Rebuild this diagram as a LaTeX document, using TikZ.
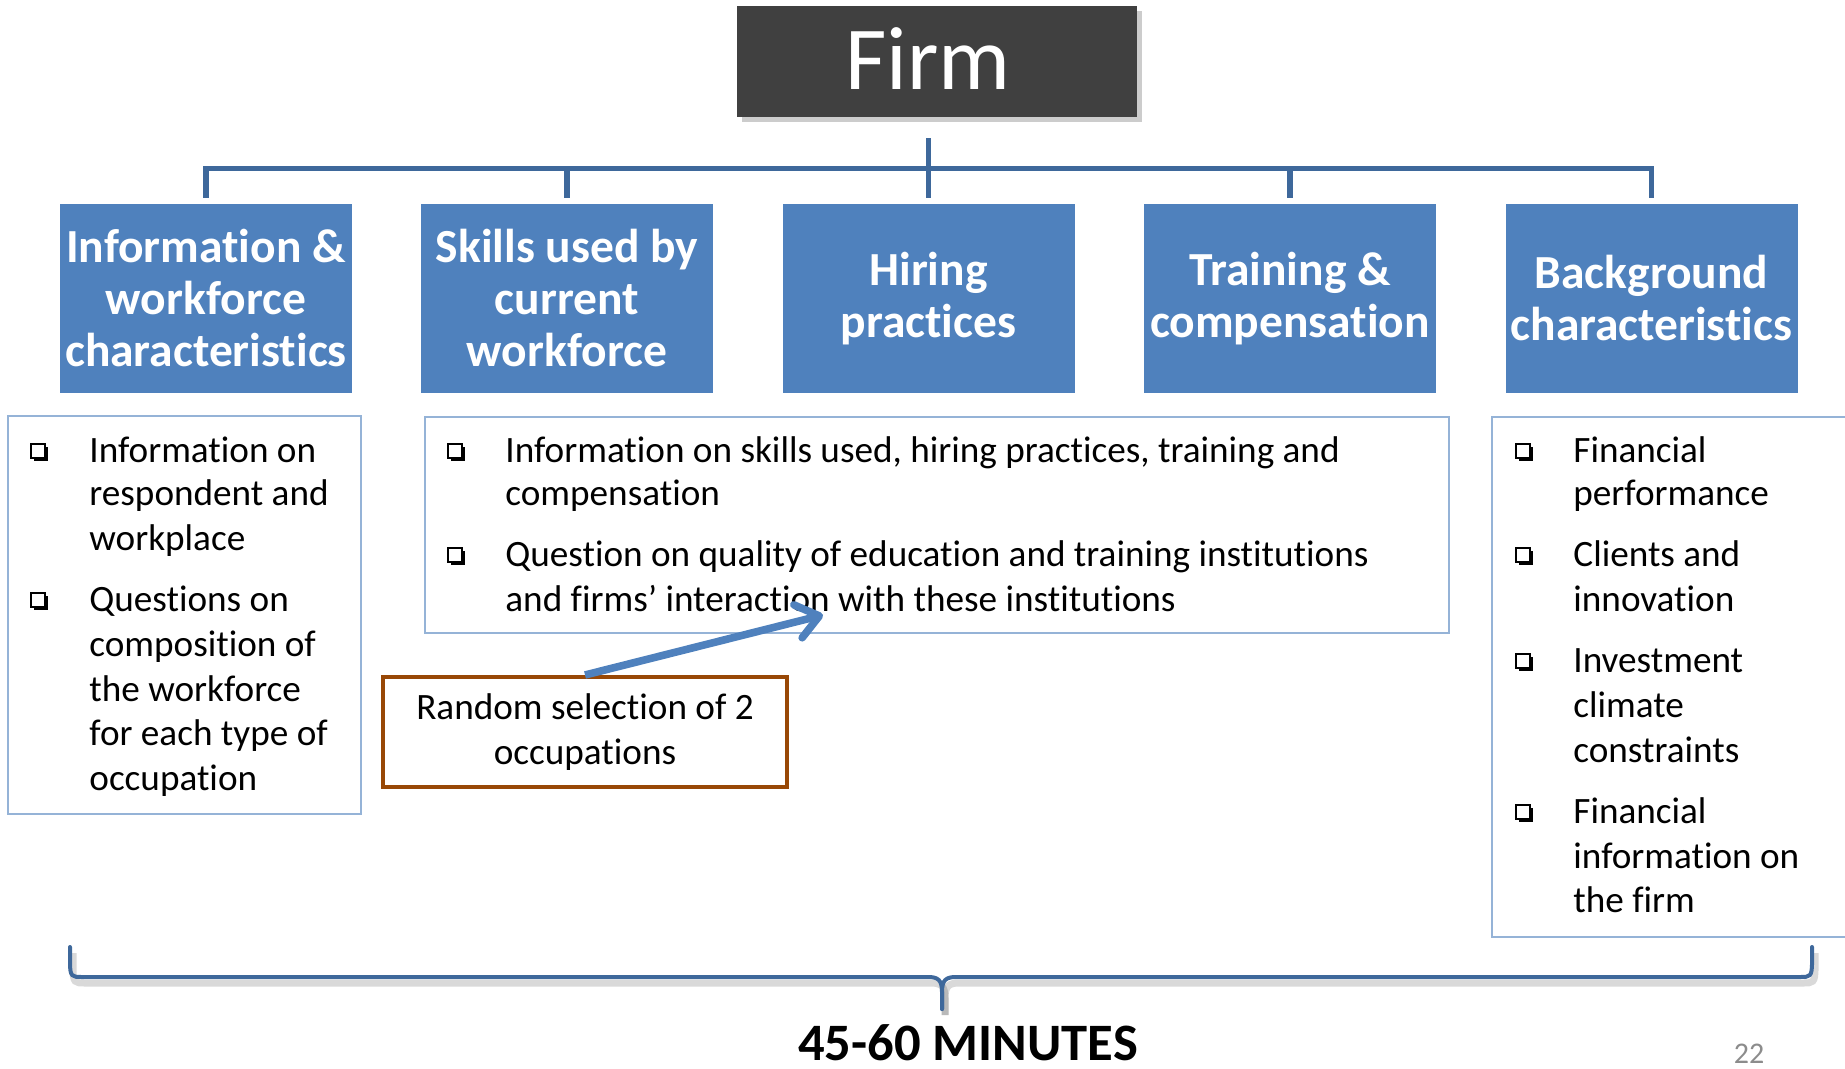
\documentclass[tikz,border=0pt]{standalone}
\usepackage{fontspec}
\setmainfont[RawFeature={-liga;-clig;-dlig}]{Carlito}
\usetikzlibrary{arrows.meta,shadows}
\definecolor{boxblue}{RGB}{79,129,189}
\definecolor{connblue}{RGB}{62,104,155}
\definecolor{outblue}{RGB}{149,179,215}
\definecolor{firmgray}{RGB}{64,64,64}
\definecolor{rsbrown}{RGB}{152,72,6}
\definecolor{pggray}{RGB}{140,140,140}
\newcommand\qbul[2]{%
  \fill[black] (#1+3,#2-15) rectangle (#1+17,#2-1);
  \filldraw[fill=white,draw=black,line width=0.6pt] (#1,#2-18) rectangle (#1+14,#2-4);
}
\begin{document}
\begin{tikzpicture}[x=0.5pt,y=-0.5pt,
  topic/.style={fill=boxblue, text=white, minimum width=146pt, minimum height=94.5pt, inner sep=0pt, align=center, font=\fontsize{23.75pt}{26pt}\selectfont\bfseries},
  conn/.style={draw=connblue, line width=2.6pt},
  tbox/.style={draw=outblue, line width=1pt, inner sep=0pt},
  tline/.style={anchor=base west, inner sep=0pt, font=\fontsize{18.6pt}{22.3pt}\selectfont},
  bracestyle/.style={draw=connblue, line width=2pt, line cap=round, line join=round},
]
\useasboundingbox (0,0) rectangle (1845,1069);
\clip (0,0) rectangle (1845,1069);

% Firm
\node[fill=firmgray, minimum width=200pt, minimum height=55.5pt, inner sep=0pt,
      drop shadow={shadow xshift=2.5pt, shadow yshift=-2.5pt, opacity=0.4}] (firmbox) at (937,61.5) {};
\node[anchor=base, inner sep=0pt, text=white, font=\fontsize{45pt}{54pt}\selectfont] (firm) at (928,90) {Firm};

% topic boxes
\node[topic] (b1) at (206,298.5) {Information \&\\workforce\\characteristics};
\node[topic] (b2) at (567,298.5) {Skills used by\\current\\workforce};
\node[topic] (b3) at (928.5,298.5) {Hiring\\practices};
\node[topic] (b4) at (1290,298.5) {Training \&\\compensation};
\node[topic] (b5) at (1651.5,298.5) {Background\\characteristics};

% connectors
\draw[conn] ([yshift=3pt]b1.north) -- ++(0,-29) -| ([yshift=3pt]b5.north);
\draw[conn] ([yshift=3pt]b2.north) -- ++(0,-29);
\draw[conn] ([yshift=3pt]b4.north) -- ++(0,-29);
\draw[conn] ([yshift=-10.5pt]firmbox.south -| b3.north) -- ([yshift=3pt]b3.north);

% text boxes
\node[tbox, minimum width=176.5pt, minimum height=199pt] (tb1) at (184.5,615) {};
\node[tbox, minimum width=512pt, minimum height=108pt] (tb2) at (937,525) {};
\node[tbox, minimum width=189pt, minimum height=260pt] (tb3) at (1681,677) {};

% left box
\qbul{31}{462}
\qbul{31}{611}
\node[tline] (L1) at (89,462) {Information on};
\node[tline] (L2) at (89,505) {respondent and};
\node[tline] (L3) at (89,550) {workplace};
\node[tline] (L4) at (89,611) {Questions on};
\node[tline] (L5) at (89,656) {composition of};
\node[tline] (L6) at (89,701) {the workforce};
\node[tline] (L7) at (89,745) {for each type of};
\node[tline] (L8) at (89,790) {occupation};

% middle box
\qbul{448}{462}
\qbul{448}{566}
\node[tline] (M1) at (505,462) {Information on skills used, hiring practices, training and};
\node[tline] (M2) at (505,505) {compensation};
\node[tline] (M3) at (505,566) {Question on quality of education and training institutions};
\node[tline] (M4) at (505,611) {and firms’ interaction with these institutions};

% right box
\qbul{1516}{462}
\qbul{1516}{566}
\qbul{1516}{672}
\qbul{1516}{823}
\node[tline] (R1) at (1573,462) {Financial};
\node[tline] (R2) at (1573,505) {performance};
\node[tline] (R3) at (1573,566) {Clients and};
\node[tline] (R4) at (1573,611) {innovation};
\node[tline] (R5) at (1573,672) {Investment};
\node[tline] (R6) at (1573,717) {climate};
\node[tline] (R7) at (1573,762) {constraints};
\node[tline] (R8) at (1573,823) {Financial};
\node[tline] (R9) at (1573,868) {information on};
\node[tline] (R10) at (1573,912) {the firm};

% random selection
\node[draw=rsbrown, line width=2pt, minimum width=202pt, minimum height=55pt, inner sep=0pt,
      align=center, font=\fontsize{18.6pt}{22.3pt}\selectfont] (rs) at (585,732) {Random selection of 2\\occupations};
\coordinate (tip) at (823,615);
\draw[draw=boxblue, line width=3.8pt, -{Straight Barb[length=11pt,width=17pt,round]}] (rs.north) -- (tip);

% brace
\coordinate (brl) at (70,947);
\coordinate (brr) at (1812,947);
\coordinate (brm) at (942,1009);
\begin{scope}[transform canvas={shift={(1.5pt,-3pt)}}]
\draw[draw=black, opacity=0.15, line width=3.5pt] (brl) -- (70,962) .. controls (70,977) and (72,977) .. (82,977) -- (928,977) .. controls (938,977) and (942,980) .. (942,992) -- (brm);
\draw[draw=black, opacity=0.15, line width=3.5pt] (brr) -- (1812,962) .. controls (1812,977) and (1810,977) .. (1800,977) -- (956,977) .. controls (946,977) and (942,980) .. (942,992) -- (brm);
\end{scope}
\draw[bracestyle] (brl) -- (70,962) .. controls (70,977) and (72,977) .. (82,977) -- (928,977) .. controls (938,977) and (942,980) .. (942,992) -- (brm);
\draw[bracestyle] (brr) -- (1812,962) .. controls (1812,977) and (1810,977) .. (1800,977) -- (956,977) .. controls (946,977) and (942,980) .. (942,992) -- (brm);

\node[anchor=base, inner sep=0pt, font=\fontsize{26.3pt}{30pt}\selectfont\bfseries] (mins) at (968,1060) {45-60 MINUTES};
\node[anchor=base, inner sep=0pt, text=pggray, font=\fontsize{15pt}{18pt}\selectfont] (pg) at (1749,1063) {22};
\end{tikzpicture}
\end{document}
